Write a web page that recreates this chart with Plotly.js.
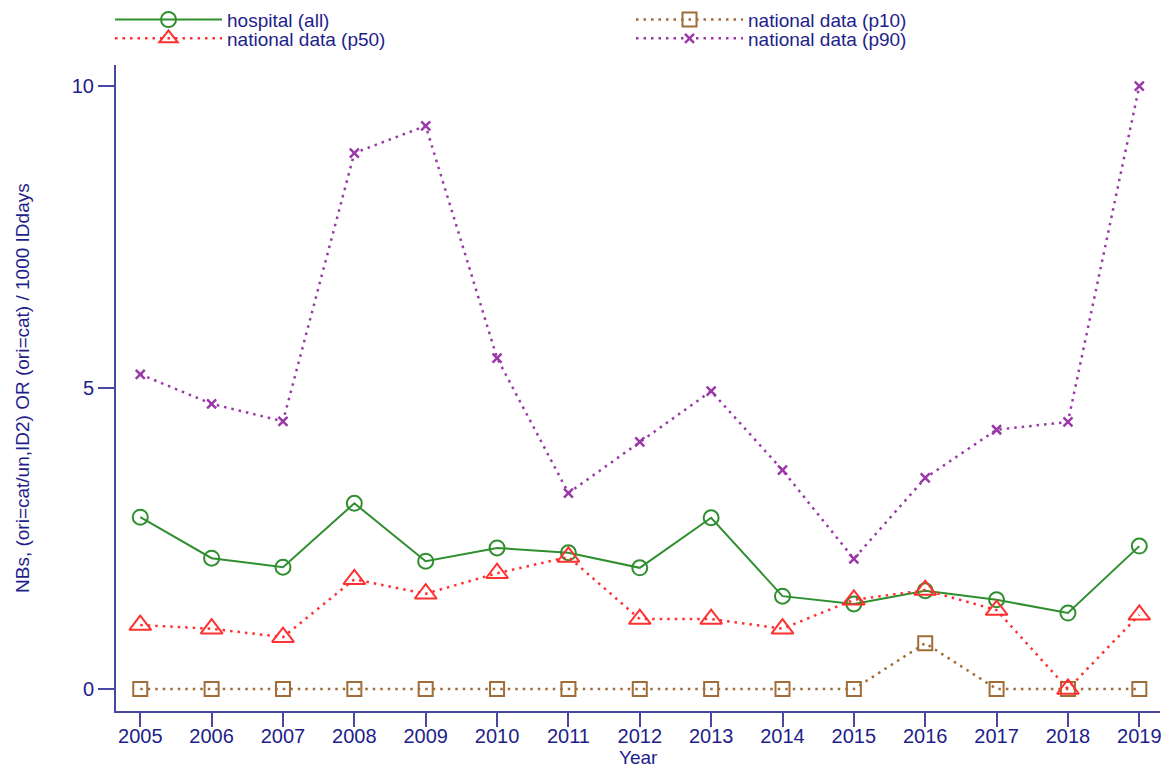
<!DOCTYPE html>
<html>
<head>
<meta charset="utf-8">
<script src="https://cdn.plot.ly/plotly-3.0.1.min.js"></script>
<style>html,body{margin:0;padding:0;background:#fff;}#chart{width:1167px;height:767px;}</style>
</head>
<body>
<div id="chart"></div>
<script>
const years = [2005,2006,2007,2008,2009,2010,2011,2012,2013,2014,2015,2016,2017,2018,2019];
const hospitalAll = [2.85,2.17,2.02,3.08,2.12,2.34,2.26,2.01,2.84,1.54,1.41,1.63,1.48,1.26,2.37];
const nationalP10 = [0,0,0,0,0,0,0,0,0,0,0,0.76,0,0,0];
const nationalP50 = [1.06,1.00,0.86,1.82,1.58,1.92,2.19,1.16,1.16,1.00,1.48,1.64,1.31,0,1.23];
const nationalP90 = [5.22,4.73,4.44,8.89,9.34,5.49,3.25,4.10,4.94,3.63,2.16,3.50,4.30,4.43,10.0];
const yTicks = [0,5,10];
const xTitle = 'Year';
const yTitle = 'NBs, (ori=cat/un,ID2) OR (ori=cat) / 1000 IDdays';

const axisCol = '#4848a0';
const textCol = '#1e1e8a';
const font = 'Liberation Sans, Arial, sans-serif';
const dotDash = '2.5px,5px';

const traces = [
  {x: years, y: hospitalAll, name: 'hospital (all)', mode: 'lines+markers', legend: 'legend',
   line: {color: '#2f8f2f', width: 2},
   marker: {symbol: 'circle-open', size: 15, color: '#2f8f2f', line: {width: 2}}},
  {x: years, y: nationalP10, name: 'national data (p10)', mode: 'lines+markers', legend: 'legend',
   line: {color: '#a06c38', width: 2.5, dash: dotDash},
   marker: {symbol: 'square-open', size: 14, color: '#a06c38', line: {width: 2}}},
  {x: years, y: nationalP50, name: 'national data (p50)', mode: 'lines+markers', legend: 'legend2',
   line: {color: '#ff3030', width: 2.5, dash: dotDash},
   marker: {symbol: 'triangle-up-open', size: 19, color: '#ff3030', line: {width: 2}}},
  {x: years, y: nationalP90, name: 'national data (p90)', mode: 'lines+markers', legend: 'legend2',
   line: {color: '#9a38a8', width: 2.5, dash: dotDash},
   marker: {symbol: 'x-thin-open', size: 9, color: '#9a38a8', line: {width: 2.5}}}
];

function legendAt(yTop) {
  return {
    orientation: 'h', x: 110 / 1167, xanchor: 'left', xref: 'container',
    y: yTop, yanchor: 'top', yref: 'container',
    entrywidth: 399, entrywidthmode: 'pixels', itemwidth: 107,
    font: {family: font, size: 19, color: textCol},
    bgcolor: 'rgba(0,0,0,0)', borderwidth: 0
  };
}

const layout = {
  width: 1167, height: 767,
  margin: {l: 116, r: 7, t: 65, b: 56, autoexpand: false},
  paper_bgcolor: '#fff', plot_bgcolor: '#fff',
  font: {family: font, color: textCol},
  showlegend: true,
  legend: legendAt(0.999),
  legend2: legendAt(0.9746),
  xaxis: {
    range: [2004.66, 2019.29], tickmode: 'array', tickvals: years, ticktext: years.map(String),
    showgrid: false, zeroline: false, showline: true, linecolor: axisCol, linewidth: 2,
    ticks: 'outside', ticklen: 14, tickwidth: 2, tickcolor: axisCol, ticklabelstandoff: -8,
    tickfont: {family: font, size: 20, color: textCol}, automargin: false
  },
  yaxis: {
    range: [-0.365, 10.35], tickmode: 'array', tickvals: yTicks, ticktext: yTicks.map(String),
    showgrid: false, zeroline: false, showline: true, linecolor: axisCol, linewidth: 2,
    ticks: 'outside', ticklen: 16, tickwidth: 2, tickcolor: axisCol,
    tickfont: {family: font, size: 20, color: textCol}, automargin: false
  },
  annotations: [
    {text: xTitle, xref: 'paper', yref: 'paper', x: 0.5, y: 0, yshift: -46, xanchor: 'center', yanchor: 'middle',
     showarrow: false, font: {family: font, size: 19, color: textCol}},
    {text: yTitle, xref: 'paper', yref: 'paper', x: 0, y: 0.5, xshift: -94, textangle: -90, xanchor: 'center', yanchor: 'middle',
     showarrow: false, font: {family: font, size: 19, color: textCol}}
  ]
};

Plotly.newPlot('chart', traces, layout, {displayModeBar: false, staticPlot: true});
</script>
</body>
</html>
